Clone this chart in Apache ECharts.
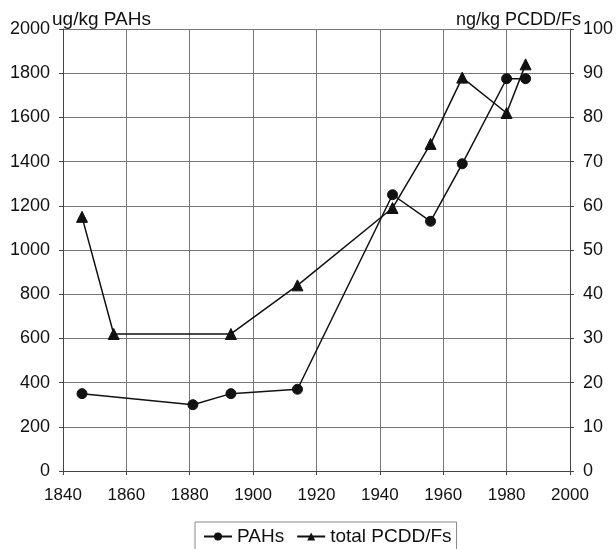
<!DOCTYPE html>
<html>
<head>
<meta charset="utf-8">
<script src="https://cdn.jsdelivr.net/npm/echarts@6/dist/echarts.min.js"></script>
<style>html,body{margin:0;padding:0;background:#fff}#c{width:616px;height:549px}</style>
</head>
<body>
<div id="c"></div>
<script>
var pahYears = [1846, 1881, 1893, 1914, 1944, 1956, 1966, 1980, 1986];
var pahValues = [350, 300, 350, 370, 1250, 1130, 1390, 1775, 1775];
var pcddYears = [1846, 1856, 1893, 1914, 1944, 1956, 1966, 1980, 1986];
var pcddValues = [57.5, 31, 31, 42, 59.5, 74, 89, 81, 92];
var leftTicks = [0, 2000, 200];
var rightTicks = [0, 100, 10];
var xTicks = [1840, 2000, 20];

function pairs(xs, ys) { return xs.map(function (x, i) { return [x, ys[i]]; }); }
function plain(v) { return String(v); }

var font = 'Liberation Sans, Arial, sans-serif';
var chart = echarts.init(document.getElementById('c'), null, { renderer: 'canvas' });
chart.setOption({
  backgroundColor: '#fff',
  animation: false,
  textStyle: { fontFamily: font, color: '#111' },
  grid: { left: 63, right: 44, top: 29, bottom: 78, containLabel: false },
  legend: {
    left: 195, top: 522, itemWidth: 28, itemHeight: 10, itemGap: 12,
    borderColor: '#888', borderWidth: 1, padding: [5, 5, 8, 8],
    textStyle: { fontFamily: font, fontSize: 19, color: '#111' },
    data: ['PAHs', 'total PCDD/Fs']
  },
  xAxis: {
    type: 'value', min: xTicks[0], max: xTicks[1], interval: xTicks[2],
    axisLine: { lineStyle: { color: '#444', width: 1 } },
    axisTick: { show: true, length: 4, lineStyle: { color: '#444' } },
    axisLabel: { fontSize: 17, color: '#111', margin: 16, fontFamily: font, formatter: plain },
    splitLine: { show: true, lineStyle: { color: '#777', width: 1 } }
  },
  yAxis: [{
    type: 'value', min: leftTicks[0], max: leftTicks[1], interval: leftTicks[2],
    name: 'ug/kg PAHs', nameLocation: 'end', nameGap: 9, nameMoveOverlap: false,
    nameTextStyle: { fontSize: 19, color: '#111', align: 'left', verticalAlign: 'middle', padding: [0, 0, 0, -11], fontFamily: font },
    axisLine: { show: true, lineStyle: { color: '#444' } },
    axisTick: { show: true, length: 4, lineStyle: { color: '#444' } },
    axisLabel: { fontSize: 18, color: '#111', margin: 13, fontFamily: font, formatter: plain },
    splitLine: { show: true, lineStyle: { color: '#777', width: 1 } }
  }, {
    type: 'value', min: rightTicks[0], max: rightTicks[1], interval: rightTicks[2],
    name: 'ng/kg PCDD/Fs', nameLocation: 'end', nameGap: 9, nameMoveOverlap: false,
    nameTextStyle: { fontSize: 18, color: '#111', align: 'right', verticalAlign: 'middle', padding: [0, -11, 0, 0], fontFamily: font },
    axisLine: { show: true, lineStyle: { color: '#444' } },
    axisTick: { show: true, length: 4, lineStyle: { color: '#444' } },
    axisLabel: { fontSize: 18, color: '#111', margin: 13, fontFamily: font, formatter: plain },
    splitLine: { show: false }
  }],
  series: [{
    name: 'PAHs', type: 'line', yAxisIndex: 0,
    data: pairs(pahYears, pahValues),
    symbol: 'circle', symbolSize: 10,
    lineStyle: { color: '#111', width: 1.5 },
    itemStyle: { color: '#111', borderColor: '#111' }
  }, {
    name: 'total PCDD/Fs', type: 'line', yAxisIndex: 1,
    data: pairs(pcddYears, pcddValues),
    symbol: 'triangle', symbolSize: 11,
    lineStyle: { color: '#111', width: 1.5 },
    itemStyle: { color: '#111', borderColor: '#111' }
  }]
});
</script>
</body>
</html>
